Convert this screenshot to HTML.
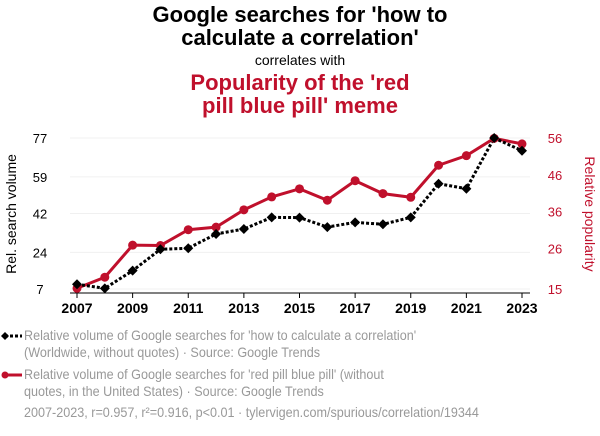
<!DOCTYPE html>
<html><head><meta charset="utf-8"><style>
body{margin:0;background:#fff;font-family:"Liberation Sans",sans-serif;}
#wrap{position:relative;width:600px;height:436px;overflow:hidden;}
.t{position:absolute;left:0;width:600px;text-align:center;}
.leg{position:absolute;left:24px;color:#999;font-size:14px;line-height:17px;transform:scaleX(0.9);transform-origin:0 0;white-space:nowrap;}
</style></head><body>
<div id="wrap">
<div class="t" style="top:3px;font-size:22px;font-weight:bold;line-height:23px;color:#000">Google searches for 'how to<br>calculate a correlation'</div>
<div class="t" style="top:52px;font-size:14px;color:#000">correlates with</div>
<div class="t" style="top:71px;font-size:22px;font-weight:bold;line-height:23px;color:#c0102c">Popularity of the 'red<br>pill blue pill' meme</div>
<svg id="svg" width="600" height="436" style="position:absolute;left:0;top:0"></svg>
<div class="leg" style="top:327px">Relative volume of Google searches for 'how to calculate a correlation'<br>(Worldwide, without quotes) · Source: Google Trends</div>
<div class="leg" style="top:366px">Relative volume of Google searches for 'red pill blue pill' (without<br>quotes, in the United States) · Source: Google Trends</div>
<div class="leg" style="top:404px">2007-2023, r=0.957, r²=0.916, p&lt;0.01 · tylervigen.com/spurious/correlation/19344</div>
</div>
<script>
const years=[2007,2008,2009,2010,2011,2012,2013,2014,2015,2016,2017,2018,2019,2020,2021,2022,2023];
const searches=[9.2,7.3,15.5,25.4,25.9,32.5,34.8,40.2,40.1,35.7,37.9,37,40.2,55.8,53.5,77,71.1];
const meme=[15.2,18.2,26.9,26.8,31.1,31.8,36.5,40,42.2,39.1,44.4,40.9,39.9,48.6,51.2,55.9,54.4];
const leftTicks=[7,24,42,59,77];
const rightTicks=[15,26,36,46,56];
const xTicks=[2007,2009,2011,2013,2015,2017,2019,2021,2023];
const NS="http://www.w3.org/2000/svg";
const svg=document.getElementById('svg');
const x=v=>77+(v-2007)*(522-77)/16;
const yl=v=>289-(v-7)*151/70;
const yr=v=>289-(v-15)*151/41;
function mk(t,a){const e=document.createElementNS(NS,t);for(const k in a)e.setAttribute(k,a[k]);svg.appendChild(e);return e;}
leftTicks.forEach((v,i)=>{
 const g=mk('line',{x1:70,x2:530,y1:yl(v),y2:yl(v),stroke:'#f0f0f0'});
 
 
 const t=mk('text',{x:40,y:yl(v)+5,'font-size':13,'text-anchor':'middle',fill:'#000'});t.textContent=v;
 
 
});
rightTicks.forEach(v=>{
 const t=mk('text',{x:555,y:yr(v)+5,'font-size':13,'text-anchor':'middle',fill:'#c0102c'});t.textContent=v;
 
 
});
xTicks.forEach(v=>{
 const l=mk('line',{x1:x(v),x2:x(v),y1:293,y2:298,stroke:'#000'});
 
 
 const t=mk('text',{x:x(v),y:313,'font-size':14,'font-weight':'bold','text-anchor':'middle',fill:'#000'});t.textContent=v;
 
 
});
const ax=mk('line',{x1:70,x2:530,y1:293,y2:293,stroke:'#000'});


let t1=mk('text',{x:0,y:0,'font-size':14,'text-anchor':'middle',fill:'#000',transform:'translate(16,214) rotate(-90)'});t1.textContent='Rel. search volume';


let t2=mk('text',{x:0,y:0,'font-size':14,'text-anchor':'middle',fill:'#c0102c',transform:'translate(585,214) rotate(90)'});t2.textContent='Relative popularity';


const pr=mk('polyline',{points:years.map((y,i)=>x(y)+','+yr(meme[i])).join(' '),fill:'none',stroke:'#c0102c','stroke-width':3});


const pb=mk('polyline',{points:years.map((y,i)=>x(y)+','+yl(searches[i])).join(' '),fill:'none',stroke:'#000','stroke-width':3,'stroke-dasharray':'3,2'});


years.forEach((y,i)=>{
 const c=mk('circle',{cx:x(y),cy:yr(meme[i]),r:4.5,fill:'#c0102c'});
 
 
 const cx=x(y),cy=yl(searches[i]);
 const d=mk('polygon',{points:`${cx},${cy-5} ${cx+5},${cy} ${cx},${cy+5} ${cx-5},${cy}`,fill:'#000'});
 
 
});
const lm1=mk('line',{x1:5,x2:22,y1:336,y2:336,stroke:'#000','stroke-width':3,'stroke-dasharray':'3,2'});


mk('polygon',{points:'5,332 9,336 5,340 1,336',fill:'#000'});
const lm2=mk('line',{x1:5,x2:22,y1:375,y2:375,stroke:'#c0102c','stroke-width':3});


mk('circle',{cx:5,cy:375,r:3.5,fill:'#c0102c'});
</script>
</body></html>
